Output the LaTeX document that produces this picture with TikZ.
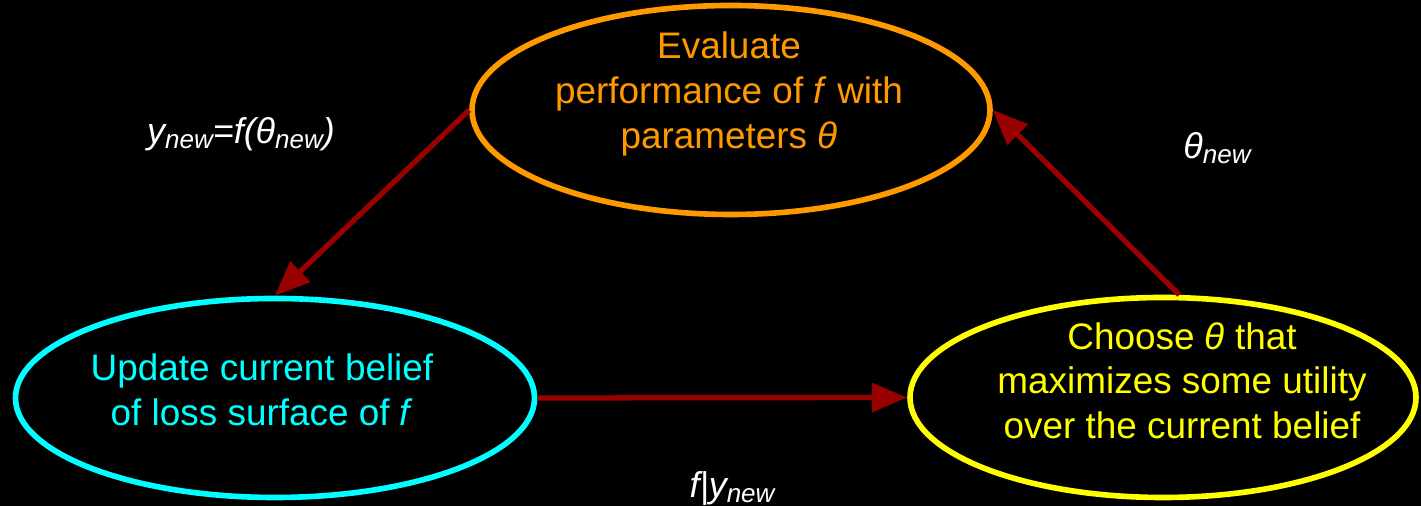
\documentclass[tikz,border=0pt]{standalone}
\usepackage{fontspec}
\setmainfont{Liberation Sans}
\usetikzlibrary{shapes.geometric,arrows.meta}
\definecolor{loopred}{HTML}{990000}
\definecolor{evalorange}{HTML}{FF9900}
\definecolor{updatecyan}{HTML}{00FFFF}
\definecolor{chooseyellow}{HTML}{FFFF00}
\newcommand{\new}{\raisebox{-0.3ex}{\fontsize{7.4}{8}\selectfont\itshape new}}
\tikzset{
  stage/.style={ellipse, draw, line width=1.6pt, inner sep=0pt},
  stagetext/.style={align=center, font=\fontsize{10.5}{12.7}\selectfont},
  flow/.style={loopred, line width=1.5pt, -{Triangle[length=0.35cm,width=0.28cm]}},
  note/.style={white, font=\fontsize{10.2}{11}\selectfont\itshape}
}
\begin{document}
\begin{tikzpicture}
    \fill[black] (0,0) rectangle (14.21,5.06);
    \useasboundingbox (0,0) rectangle (14.21,5.06);
    % the three stages of the loop
    \node[stage, evalorange, minimum width=5.18cm, minimum height=2.09cm] (eval) at (7.31,3.96) {};
    \node[stage, updatecyan, minimum width=5.19cm, minimum height=1.99cm] (update) at (2.75,1.08) {};
    \node[stage, chooseyellow, minimum width=5.06cm, minimum height=2.0cm] (choose) at (11.63,1.085) {};
    \node[stagetext, evalorange] (evaltxt) at ([xshift=-0.02cm,yshift=0.16cm]eval.center) {Evaluate\\performance of \textit{f} with\\parameters \textit{θ}};
    \node[stagetext, updatecyan] (updatetxt) at ([xshift=-0.13cm,yshift=0.08cm]update.center) {Update current belief\\of loss surface of \textit{f}};
    \node[stagetext, chooseyellow] (choosetxt) at ([xshift=0.19cm,yshift=0.17cm]choose.center) {Choose \textit{θ} that\\maximizes some utility\\over the current belief};
    % arrows between stages
    \draw[flow] (eval.west) -- (update.north);
    \draw[flow] (update.east) -- (choose.west);
    \draw[flow] (choose.81) -- (eval.east);
    % what gets passed along
    \node[note] (ynew) at (2.41,3.72) {y\new=f(θ\new)};
    \node[note] (thetanew) at (12.17,3.58) {θ\new};
    \node[note] (fgiven) at (7.32,0.18) {f|y\new};
\end{tikzpicture}
\end{document}
